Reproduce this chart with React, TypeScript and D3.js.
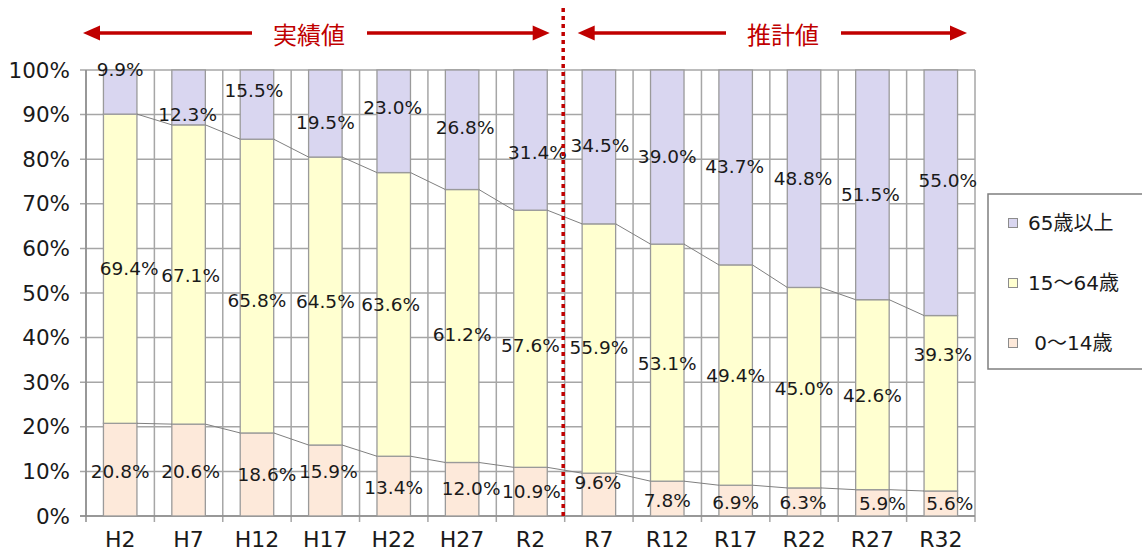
import React from 'react';
import * as d3 from 'd3';

const categories = ['H2', 'H7', 'H12', 'H17', 'H22', 'H27', 'R2', 'R7', 'R12', 'R17', 'R22', 'R27', 'R32'];
const age0to14 = [20.8, 20.6, 18.6, 15.9, 13.4, 12.0, 10.9, 9.6, 7.8, 6.9, 6.3, 5.9, 5.6];
const age15to64 = [69.4, 67.1, 65.8, 64.5, 63.6, 61.2, 57.6, 55.9, 53.1, 49.4, 45.0, 42.6, 39.3];
const age65plus = [9.9, 12.3, 15.5, 19.5, 23.0, 26.8, 31.4, 34.5, 39.0, 43.7, 48.8, 51.5, 55.0];
const yTicks = [0, 10, 20, 30, 40, 50, 60, 70, 80, 90, 100];

// where the data labels sit (in % units, the way they were dragged in the original)
const label65At = [100.2, 90.1, 95.5, 88.3, 91.7, 87.0, 81.6, 83.0, 80.7, 78.3, 75.6, 72.0, 75.3];
const label15At = [55.6, 54.0, 48.4, 48.0, 47.5, 40.6, 38.3, 37.7, 34.3, 31.6, 28.5, 27.1, 36.3];
const label0At = [9.9, 9.9, 9.4, 9.9, 6.5, 6.1, 5.6, 7.6, 3.4, 3.1, 3.1, 2.7, 2.7];
const nudge65 = [0, -1, -3, 0, -1, 3, 7, 1, 0, -1, -1, -2, 7];
const nudge15 = [9, 2, 0, 0, -3, 0, 0, 0, 0, 0, 0, 0, 2];
const nudge0 = [0, 2, 10, 3, 0, 9, 1, -1, 0, 0, -1, 10, 9];

const legendItems = [
  { name: '65歳以上', color: '#d9d6f0' },
  { name: '15～64歳', color: '#ffffd0' },
  { name: ' 0～14歳', color: '#fde9da' },
];

const W = 1142;
const H = 551;
const FONT = '"DejaVu Sans", "Noto Sans CJK JP", sans-serif';
const RED = '#c00000';

export default function App() {
  const x = d3.scaleBand<string>().domain(categories).range([86, 975]).paddingInner(0.51).paddingOuter(0.255);
  const y = d3.scaleLinear().domain([0, 100]).range([516, 70]);
  const bw = x.bandwidth();
  const half = (x.step() * x.paddingInner()) / 2;
  const bounds = categories.map(c => (x(c) as number) - half).concat([(x(categories[categories.length - 1]) as number) + bw + half]);
  const split = bounds[7]; // 実績 / 推計 boundary

  const rows = categories.map((c, i) => {
    const sum = age0to14[i] + age15to64[i] + age65plus[i];
    const a = (age0to14[i] / sum) * 100;
    const b = a + (age15to64[i] / sum) * 100;
    return { c, a, b };
  });

  const cx = (i: number) => (x(categories[i]) as number) + bw / 2;

  const arrow = (x1: number, x2: number, yy: number, key: string) => {
    // x2 is the tip
    const dir = x2 > x1 ? 1 : -1;
    const head = 17;
    return (
      <g key={key}>
        <line x1={x1} x2={x2 - dir * head + dir} y1={yy} y2={yy} stroke={RED} strokeWidth={3.5} />
        <polygon points={`${x2},${yy} ${x2 - dir * head},${yy - 7.5} ${x2 - dir * head},${yy + 7.5}`} fill={RED} />
      </g>
    );
  };

  const ay = 33;

  return (
    <div style={{ position: 'absolute', left: 0, top: 0 }}>
      <svg width={W} height={H} style={{ display: 'block', background: '#fff', fontFamily: FONT }}>
        {/* grid */}
        {yTicks.map(t => (
          <line key={'gy' + t} x1={80} x2={975} y1={y(t)} y2={y(t)} stroke="#a6a6a6" strokeWidth={1.5} />
        ))}
        {bounds.map((b, i) => (
          <line key={'gx' + i} x1={b} x2={b} y1={y(100)} y2={y(0) + (i === 0 ? 0 : 6)} stroke="#a6a6a6" strokeWidth={1.5} />
        ))}
        <line x1={86} x2={86} y1={y(100)} y2={y(0) + 6} stroke="#8c8c8c" strokeWidth={1.5} />
        <line x1={80} x2={975} y1={y(0)} y2={y(0)} stroke="#8c8c8c" strokeWidth={1.5} />

        {/* bars */}
        {rows.map(r => (
          <g key={r.c}>
            <rect x={x(r.c)} y={y(r.a)} width={bw} height={y(0) - y(r.a)} fill="#fde9da" stroke="#9a9a9a" strokeWidth={1.3} />
            <rect x={x(r.c)} y={y(r.b)} width={bw} height={y(r.a) - y(r.b)} fill="#ffffd0" stroke="#9a9a9a" strokeWidth={1.3} />
            <rect x={x(r.c)} y={y(100)} width={bw} height={y(r.b) - y(100)} fill="#d9d6f0" stroke="#9a9a9a" strokeWidth={1.3} />
          </g>
        ))}

        {/* series lines */}
        {rows.slice(0, -1).map((r, i) => {
          const n = rows[i + 1];
          const x1 = (x(r.c) as number) + bw;
          const x2 = x(n.c) as number;
          return (
            <g key={'sl' + i}>
              <line x1={x1} x2={x2} y1={y(r.a)} y2={y(n.a)} stroke="#808080" strokeWidth={1} />
              <line x1={x1} x2={x2} y1={y(r.b)} y2={y(n.b)} stroke="#808080" strokeWidth={1} />
            </g>
          );
        })}

        {/* y axis labels */}
        {yTicks.map(t => (
          <text key={'yt' + t} x={70} y={y(t)} textAnchor="end" dominantBaseline="central" fontSize={21.5} fill="#1a1a1a">
            {t}%
          </text>
        ))}
        {/* x axis labels */}
        {categories.map((c, i) => (
          <text key={'xt' + c} x={cx(i)} y={539} textAnchor="middle" dominantBaseline="central" fontSize={22} fill="#1a1a1a">
            {c}
          </text>
        ))}

        {/* data labels */}
        {categories.map((c, i) => (
          <g key={'lb' + c} fontSize={18.5} fill="#1a1a1a" textAnchor="middle" dominantBaseline="central">
            <text x={cx(i) + nudge65[i]} y={y(label65At[i])}>{age65plus[i].toFixed(1)}%</text>
            <text x={cx(i) + nudge15[i]} y={y(label15At[i])}>{age15to64[i].toFixed(1)}%</text>
            <text x={cx(i) + nudge0[i]} y={y(label0At[i])}>{age0to14[i].toFixed(1)}%</text>
          </g>
        ))}

        {/* split line */}
        <line x1={split - 1.5} x2={split - 1.5} y1={8} y2={516} stroke={RED} strokeWidth={3.5} strokeDasharray="4 4" />

        {/* header arrows */}
        {arrow(252, 83, ay, 'a1')}
        {arrow(367, split - 15, ay, 'a2')}
        {arrow(726, split + 13, ay, 'a3')}
        {arrow(841, 967, ay, 'a4')}
        <text x={309} y={ay} textAnchor="middle" dominantBaseline="central" fontSize={24} fill={RED} fontFamily='"Noto Sans CJK JP", sans-serif'>
          実績値
        </text>
        <text x={783} y={ay} textAnchor="middle" dominantBaseline="central" fontSize={24} fill={RED} fontFamily='"Noto Sans CJK JP", sans-serif'>
          推計値
        </text>

        {/* legend */}
        <rect x={988} y={194} width={170} height={175} fill="#fff" stroke="#7f7f7f" strokeWidth={1.5} />
        {legendItems.map((d, i) => {
          const ly = 223 + i * 60;
          return (
            <g key={d.name}>
              <rect x={1008.5} y={ly - 4.5} width={9} height={9} fill={d.color} stroke="#8c8c8c" strokeWidth={1} />
              <text x={1028} y={ly} dominantBaseline="central" fontSize={20} fill="#1a1a1a" style={{ whiteSpace: 'pre' }}>
                {d.name}
              </text>
            </g>
          );
        })}
      </svg>
    </div>
  );
}
